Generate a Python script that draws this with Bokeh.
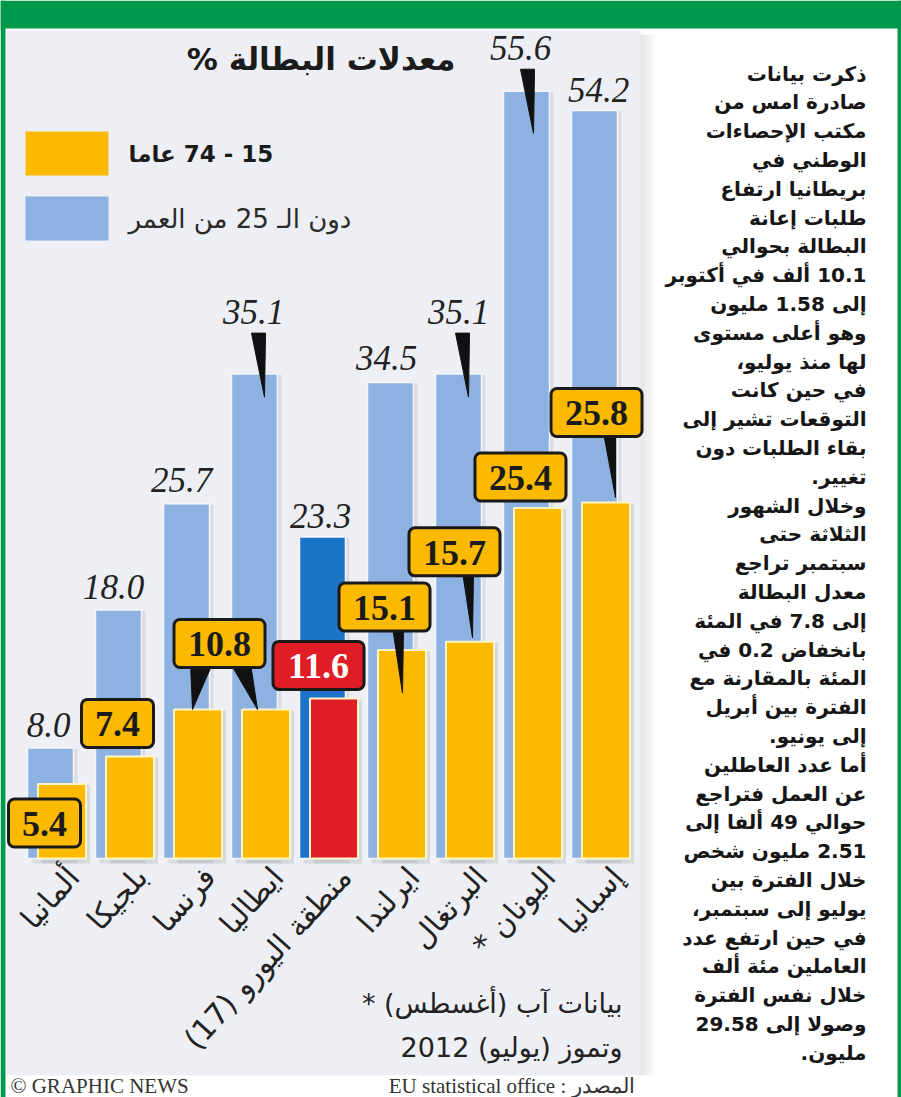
import math
from bokeh.plotting import figure
from bokeh.models import Range1d
from bokeh.embed import file_html
from bokeh.resources import INLINE
from bokeh.core.properties import value

# ---------------- data ----------------
categories = ["ألمانيا", "بلجيكا", "فرنسا", "ايطاليا", "منطقة اليورو (17)",
              "ايرلندا", "البرتغال", "اليونان *", "إسبانيا"]
under25 = [8.0, 18.0, 25.7, 35.1, 23.3, 34.5, 35.1, 55.6, 54.2]
age15_74 = [5.4, 7.4, 10.8, 10.8, 11.6, 15.1, 15.7, 25.4, 25.8]
legend_labels = ["15 - 74 عاما", "دون الـ 25 من العمر"]
title_text = "معدلات البطالة %"
footnote_lines = ["* بيانات آب (أغسطس)", "وتموز (يوليو) 2012"]
credit_text = "© GRAPHIC NEWS"
source_text = "المصدر : EU statistical office"
body_lines = [
    "ذكرت بيانات", "صادرة امس من", "مكتب الإحصاءات", "الوطني في",
    "بريطانيا ارتفاع", "طلبات إعانة", "البطالة بحوالي", "10.1 ألف في أكتوبر",
    "إلى 1.58 مليون", "وهو أعلى مستوى", "لها منذ يوليو،", "في حين كانت",
    "التوقعات تشير إلى", "بقاء الطلبات دون", "تغيير.", "وخلال الشهور",
    "الثلاثة حتى", "سبتمبر تراجع", "معدل البطالة", "إلى 7.8 في المئة",
    "بانخفاض 0.2 في", "المئة بالمقارنة مع", "الفترة بين أبريل", "إلى يونيو.",
    "أما عدد العاطلين", "عن العمل فتراجع", "حوالي 49 ألفا إلى", "2.51 مليون شخص",
    "خلال الفترة بين", "يوليو إلى سبتمبر،", "في حين ارتفع عدد", "العاملين مئة ألف",
    "خلال نفس الفترة", "وصولا إلى 29.58", "مليون.",
]

# ---------------- styles / layout ----------------
W, H = 901, 1097
PX0, PITCH, BASE, PPU = 56.0, 68.0, 858.0, 13.8
GREEN = "#00984a"
PANEL = "#edeff4"
LBLUE = "#8db1e1"
DBLUE = "#1c74c8"
YEL = "#fbba00"
RED = "#e01d25"
INK = "#1b1b1b"
RLM = "\u200f"


def rtl(s):
    return RLM + s + RLM


def rtl_embed(s):
    return "\u202b" + s + "\u202c"


def X(px):
    return (px - PX0) / PITCH


def Y(py):
    return (BASE - py) / PPU


def dxp(px):
    return px / PITCH


def dyp(px):
    return px / PPU


n = len(categories)
idx = list(range(n))
blue_off, blue_w = -6.0, 46.0
yel_off, yel_w = 5.5, 48.0
blue_cx = [i + dxp(blue_off) for i in idx]
yel_cx = [i + dxp(yel_off) for i in idx]
blue_fill = [DBLUE if i == 4 else LBLUE for i in idx]
yel_fill = [RED if i == 4 else YEL for i in idx]

# blue value label placement (pixels)
blue_lbl_dx = [-2, -5, -5, -1, -2, -4, 0, -6, 4]
blue_lbl_lift = [23, 23, 24, 62, 21, 24, 62, 43, 21]
# blue pointers: index -> (tip dx px, tip depth into bar px)
blue_ptr = {3: (10, 23), 6: (10, 23), 7: (7, 42)}

# yellow box placement (pixels); None = no own box
box_dx = [-17.5, -12.5, 21.5, None, -15.5, -17.5, -15.5, -17.5, -9.5]
box_lift = [-39, 33, 66, None, 33, 43, 90, 31, 90]
BOX_H = 48
# yellow pointers: (bar index, box owner index, tip dx, tip depth, base l, base r)
yel_ptr = [(2, 2, -5.5, 0, -2, 20), (3, 2, -8.5, 0, -27, -7),
           (5, 5, 0.5, 43, -10, 1), (6, 6, 2.5, -4, -10, 1), (8, 8, 9.5, -5, -12, 0)]

p = figure(width=W, height=H, x_range=Range1d(X(0), X(W)), y_range=Range1d(Y(H), Y(0)),
           min_border=0, toolbar_location=None, output_backend="svg",
           x_axis_location=None, y_axis_location=None,
           background_fill_color="white", border_fill_color="white",
           outline_line_color=None)
p.grid.visible = False

# frame decorations
p.quad(left=[X(0)], right=[X(W)], top=[Y(0)], bottom=[Y(28)], fill_color=GREEN, line_color=None)
p.quad(left=[X(6)], right=[X(640)], top=[Y(30)], bottom=[Y(1075)], fill_color=PANEL, line_color=None)
for k in range(7):
    p.quad(left=[X(640 + 2 * k)], right=[X(642 + 2 * k)], top=[Y(34)], bottom=[Y(1075)],
           fill_color="#000000", fill_alpha=0.10 - 0.013 * k, line_color=None)
p.quad(left=[X(0)], right=[X(5)], top=[Y(0)], bottom=[Y(H)], fill_color=GREEN, line_color=None)
p.quad(left=[X(897)], right=[X(W)], top=[Y(0)], bottom=[Y(H)], fill_color=GREEN, line_color=None)

# title
p.text(x=[X(455)], y=[Y(58)], text=[rtl(title_text)], text_font=value("DejaVu Sans"),
       text_font_style="bold", text_font_size="31px", text_align="right",
       text_baseline="middle", text_color=INK)

# legend
p.quad(left=[X(25), X(25)], right=[X(108), X(108)], top=[Y(131), Y(196)],
       bottom=[Y(175), Y(240)], fill_color=[YEL, LBLUE], line_color=None)
p.text(x=[X(128)], y=[Y(153)], text=[rtl(legend_labels[0])], text_font=value("DejaVu Sans"),
       text_font_style="bold", text_font_size="23px", text_align="left",
       text_baseline="middle", text_color=INK)
p.text(x=[X(128)], y=[Y(218)], text=[rtl(legend_labels[1])], text_font=value("DejaVu Sans"),
       text_font_size="26px", text_align="left", text_baseline="middle", text_color="#2a2a2a")

# bar shadows
p.vbar(x=[c + dxp(4) for c in blue_cx], top=[v - dyp(1) for v in under25], bottom=dyp(-5),
       width=dxp(blue_w), fill_color="#6d7480", fill_alpha=0.16, line_color=None)
p.vbar(x=[c + dxp(4) for c in yel_cx], top=[v - dyp(1) for v in age15_74], bottom=dyp(-5),
       width=dxp(yel_w), fill_color="#6d7480", fill_alpha=0.18, line_color=None)

# bars
p.vbar(x=blue_cx, top=under25, bottom=0, width=dxp(blue_w), fill_color=blue_fill,
       line_color="#f4f6fb", line_width=1.5)
p.vbar(x=yel_cx, top=age15_74, bottom=0, width=dxp(yel_w), fill_color=yel_fill,
       line_color="#fff3c8", line_width=2)

# blue pointers
bxs, bys = [], []
for i, (tdx, depth) in blue_ptr.items():
    tip_x = blue_cx[i] + dxp(tdx)
    tip_y = under25[i] - dyp(depth)
    top_y = under25[i] + dyp(blue_lbl_lift[i] - 21)
    bxs.append([tip_x - dxp(13), tip_x + dxp(1), tip_x])
    bys.append([top_y, top_y, tip_y])
p.patches(xs=bxs, ys=bys, fill_color="#111111", line_color="#111111", line_width=1)

# blue value labels
p.text(x=[blue_cx[i] + dxp(blue_lbl_dx[i]) for i in idx],
       y=[under25[i] + dyp(blue_lbl_lift[i]) for i in idx],
       text=[f"{v:.1f}" for v in under25], text_font=value("Liberation Serif"),
       text_font_style="italic", text_font_size="35px", text_align="center",
       text_baseline="middle", text_color="#222222")

# yellow pointers
yxs, yys = [], []
for bi, owner, tdx, depth, bl, br in yel_ptr:
    tip_x = yel_cx[bi] + dxp(tdx)
    tip_y = age15_74[bi] - dyp(depth)
    base_y = age15_74[owner] + dyp(box_lift[owner] - BOX_H / 2 + 4)
    yxs.append([tip_x + dxp(bl), tip_x + dxp(br), tip_x])
    yys.append([base_y, base_y, tip_y])
p.patches(xs=yxs, ys=yys, fill_color="#111111", line_color="#111111", line_width=1)

# yellow value boxes
bl_, br_, bt_, bb_, bfill, tx, ty, tt, tcol = [], [], [], [], [], [], [], [], []
for i in idx:
    if box_dx[i] is None:
        continue
    label = f"{age15_74[i]:.1f}"
    wpx = 72 if len(label) == 3 else 91
    cx = yel_cx[i] + dxp(box_dx[i])
    cy = age15_74[i] + dyp(box_lift[i])
    bl_.append(cx - dxp(wpx / 2))
    br_.append(cx + dxp(wpx / 2))
    bt_.append(cy + dyp(BOX_H / 2))
    bb_.append(cy - dyp(BOX_H / 2))
    bfill.append(yel_fill[i])
    tx.append(cx)
    ty.append(cy - dyp(1))
    tt.append(label)
    tcol.append("white" if i == 4 else INK)
p.quad(left=bl_, right=br_, top=bt_, bottom=bb_, fill_color=bfill,
       line_color="#1a1a1a", line_width=3, border_radius=6)
p.text(x=tx, y=ty, text=tt, text_color=tcol, text_font=value("Liberation Serif"),
       text_font_style="bold", text_font_size="36px", text_align="center",
       text_baseline="middle")

# category labels (rotated)
p.text(x=[i + dxp(17) for i in idx], y=[dyp(-13)] * n, text=[rtl(c) for c in categories],
       angle=math.radians(48), text_font=value("DejaVu Sans"), text_font_size="30px",
       text_align="right", text_baseline="middle", text_color="#222222")

# footnote
p.text(x=[X(622)] * 2, y=[Y(1003), Y(1047)],
       text=[footnote_lines[0] + RLM, rtl(footnote_lines[1])],
       text_font=value("DejaVu Sans"), text_font_size="27px", text_align="right",
       text_baseline="middle", text_color="#222222")

# credits
p.text(x=[X(10)], y=[Y(1085)], text=[credit_text], text_font=value("Liberation Serif"),
       text_font_size="21px", text_align="left", text_baseline="middle", text_color="#333333")
p.text(x=[X(634)], y=[Y(1085)], text=[rtl_embed(source_text)], text_font=value("Liberation Serif"),
       text_font_size="21px", text_align="right", text_baseline="middle", text_color="#333333")

# body text column
p.text(x=[X(866)] * len(body_lines), y=[Y(73 + 28.8 * k) for k in range(len(body_lines))],
       text=[rtl(s) for s in body_lines], text_font=value("DejaVu Sans"),
       text_font_style="bold", text_font_size="20px", text_align="right",
       text_baseline="middle", text_color="#161616")

open("out.html", "w").write(file_html(p, INLINE))
